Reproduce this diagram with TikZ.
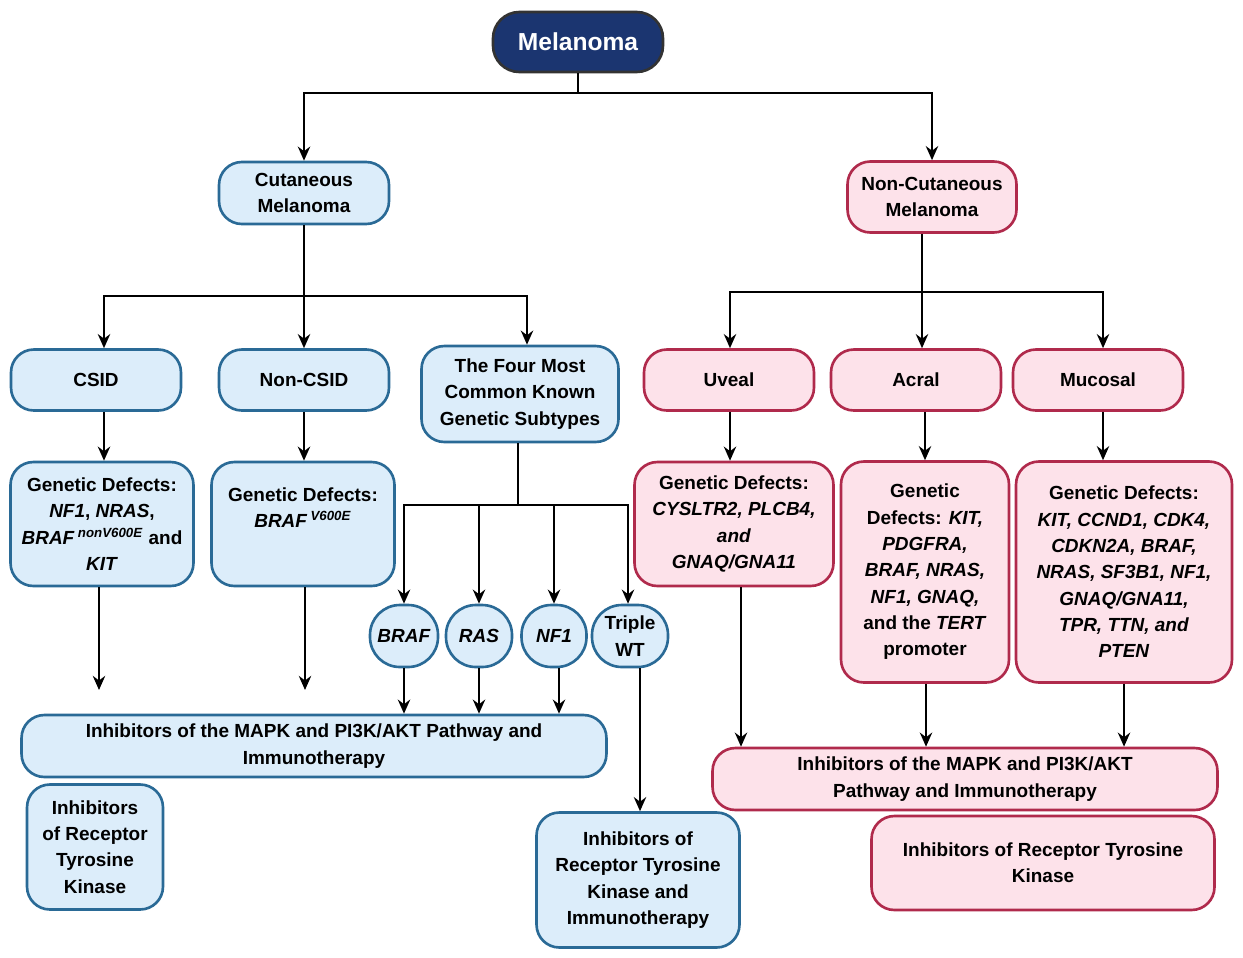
\documentclass[tikz,border=0pt]{standalone}
\usepackage{fontspec}
\setmainfont{Liberation Sans}
\usetikzlibrary{arrows.meta}
\definecolor{navy}{HTML}{1B3570}
\definecolor{bfill}{HTML}{DCEDFA}
\definecolor{bline}{HTML}{2A6A96}
\definecolor{pfill}{HTML}{FDE2EA}
\definecolor{pline}{HTML}{B02A4C}
\begin{document}
\begin{tikzpicture}[x=0.02cm,y=-0.02cm,
 every node/.style={font=\fontsize{10.8}{15}\selectfont\bfseries, align=center, inner sep=1pt},
 box/.style={draw, line width=1.5pt, rounded corners=13pt},
 blue/.style={box, fill=bfill, draw=bline},
 pink/.style={box, fill=pfill, draw=pline},
 circ/.style={blue, rounded corners=17pt},
 ar/.style={line width=1.6pt, -{Stealth[length=8pt,width=7pt]}},
 ln/.style={line width=1.6pt}]
\useasboundingbox (0,0) rectangle (1243,957);
\node[box, fill=navy, draw=black!80, text=white, minimum width=170*0.02cm, minimum height=60*0.02cm, rounded corners=15pt, font=\fontsize{14}{17}\selectfont\bfseries] (mel) at (578,42) {Melanoma};
\node[blue, minimum width=3.4cm, minimum height=1.24cm] (cut) at (304,193) {Cutaneous\\Melanoma};
\node[pink, minimum width=3.38cm, minimum height=1.42cm] (ncut) at (932,197) {Non-Cutaneous\\Melanoma};
\node[blue, minimum width=3.4cm, minimum height=1.22cm] (csid) at (96,380) {CSID};
\node[blue, minimum width=3.4cm, minimum height=1.22cm] (ncsid) at (304,380) {Non-CSID};
\node[blue, minimum width=3.94cm, minimum height=1.92cm] (four) at (520,394) {The Four Most\\Common Known\\Genetic Subtypes};
\node[pink, minimum width=3.4cm, minimum height=1.22cm] (uv) at (729,380) {Uveal};
\node[pink, minimum width=3.4cm, minimum height=1.22cm] (ac) at (916,380) {Acral};
\node[pink, minimum width=3.4cm, minimum height=1.22cm] (mu) at (1098,380) {Mucosal};
\node[blue, minimum width=3.66cm, minimum height=2.48cm] (gcsid) at (102,524) {Genetic Defects:\\\textit{NF1}, \textit{NRAS},\\\textit{BRAF}\,\textsuperscript{\textit{nonV600E}} and\\\textit{KIT}};
\node[blue, minimum width=3.66cm, minimum height=2.48cm] (gncsid) at (303,524) {Genetic Defects:\\\textit{BRAF}\,\textsuperscript{\textit{V600E}}\\[4pt]};
\node[pink, minimum width=3.98cm, minimum height=2.48cm] (guv) at (734,524) {Genetic Defects:\\\textit{CYSLTR2, PLCB4,}\\\textit{and}\\\textit{GNAQ/GNA11}};
\node[pink, minimum width=3.36cm, minimum height=4.42cm] (gac) at (925,572) {Genetic\\Defects: \textit{KIT,}\\\textit{PDGFRA,}\\\textit{BRAF, NRAS,}\\\textit{NF1, GNAQ,}\\and the \textit{TERT}\\promoter};
\node[pink, minimum width=4.32cm, minimum height=4.42cm] (gmu) at (1124,572) {Genetic Defects:\\\textit{KIT, CCND1, CDK4,}\\\textit{CDKN2A, BRAF,}\\\textit{NRAS, SF3B1, NF1,}\\\textit{GNAQ/GNA11,}\\\textit{TPR, TTN, and}\\\textit{PTEN}};
\node[circ, minimum width=1.36cm, minimum height=1.24cm] (braf) at (404,636) {\textit{BRAF}};
\node[circ, minimum width=1.32cm, minimum height=1.24cm] (ras) at (479,636) {\textit{RAS}};
\node[circ, minimum width=1.3cm, minimum height=1.24cm] (nf1) at (554,636) {\textit{NF1}};
\node[circ, minimum width=1.52cm, minimum height=1.24cm] (twt) at (630,636) {Triple\\WT};
\node[blue, minimum width=11.7cm, minimum height=1.24cm] (binh) at (314,746) {Inhibitors of the MAPK and PI3K/AKT Pathway and\\Immunotherapy};
\node[blue, minimum width=2.72cm, minimum height=2.5cm] (brtk) at (95,847) {Inhibitors\\of Receptor\\Tyrosine\\Kinase};
\node[blue, minimum width=4.06cm, minimum height=2.7cm] (brtki) at (638,880) {Inhibitors of\\Receptor Tyrosine\\Kinase and\\Immunotherapy};
\node[pink, minimum width=10.1cm, minimum height=1.24cm] (pinh) at (965,779) {Inhibitors of the MAPK and PI3K/AKT\\Pathway and Immunotherapy};
\node[pink, minimum width=6.86cm, minimum height=1.88cm] (prtk) at (1043,863) {Inhibitors of Receptor Tyrosine\\Kinase};
% connectors
\draw[ln] (mel.south) -- (578,93) coordinate (j1);
\draw[ar] (j1) -| (cut.north);
\draw[ar] (j1) -| (ncut.north);
\draw[ln] (cut.south) -- (304,296) coordinate (j2);
\draw[ar] (j2) -| (csid.north -| 104,0);
\draw[ar] (j2) -- (ncsid.north);
\draw[ar] (j2) -| (four.north -| 527,0);
\draw[ln] (ncut.south -| 922,0) -- (922,292) coordinate (j3);
\draw[ar] (j3) -| (uv.north -| 730,0);
\draw[ar] (j3) -- (ac.north -| 922,0);
\draw[ar] (j3) -| (mu.north -| 1103,0);
\draw[ar] (csid.south -| 104,0) -- (gcsid.north -| 104,0);
\draw[ar] (ncsid.south) -- (gncsid.north -| 304,0);
\draw[ar] (uv.south -| 730,0) -- (guv.north -| 730,0);
\draw[ar] (ac.south -| 925,0) -- (gac.north);
\draw[ar] (mu.south -| 1103,0) -- (gmu.north -| 1103,0);
\draw[ln] (four.south -| 518,0) -- (518,505) coordinate (j4);
\draw[ar] (j4) -| (braf.north);
\draw[ar] (j4) -| (ras.north);
\draw[ar] (j4) -| (nf1.north);
\draw[ar] (j4) -| (twt.north -| 628,0);
\coordinate (e1) at (99,690); \coordinate (e2) at (305,690);
\draw[ar] (gcsid.south -| 99,0) -- (e1);
\draw[ar] (gncsid.south -| 305,0) -- (e2);
\draw[ar] (braf.south) -- (binh.north -| braf);
\draw[ar] (ras.south) -- (binh.north -| ras);
\draw[ar] (nf1.south -| 559,0) -- (binh.north -| 559,0);
\draw[ar] (twt.south -| 640,0) -- (brtki.north -| 640,0);
\draw[ar] (guv.south -| 741,0) -- (pinh.north -| 741,0);
\draw[ar] (gac.south -| 926,0) -- (pinh.north -| 926,0);
\draw[ar] (gmu.south) -- (pinh.north -| 1124,0);
\end{tikzpicture}
\end{document}
